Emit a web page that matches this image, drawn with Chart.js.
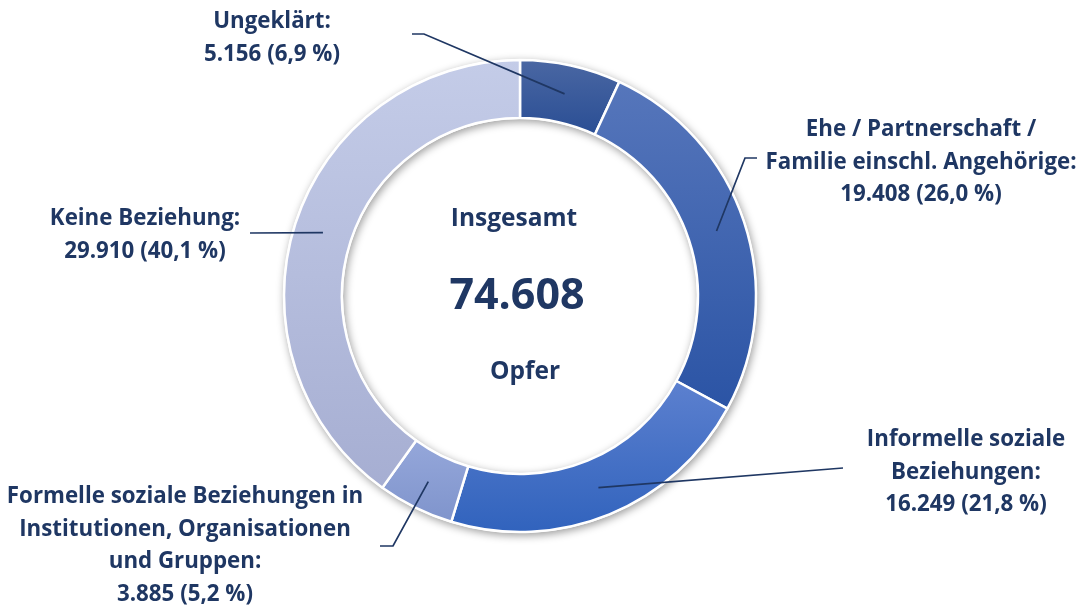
<!DOCTYPE html>
<html>
<head>
<meta charset="utf-8">
<script src="https://cdn.jsdelivr.net/npm/chart.js@4.4.0/dist/chart.umd.min.js"></script>
<style>
  html, body { margin: 0; padding: 0; background: #fff; }
  #wrap { width: 1084px; height: 607px; position: relative; }
</style>
</head>
<body>
<div id="wrap"><canvas id="opferChart"></canvas></div>
<script>
// Daten
const kategorien = [
    ['Ungeklärt:'],
    ['Ehe / Partnerschaft /', 'Familie einschl. Angehörige:'],
    ['Informelle soziale', 'Beziehungen:'],
    ['Formelle soziale Beziehungen in', 'Institutionen, Organisationen', 'und Gruppen:'],
    ['Keine Beziehung:']
];
const opferZahlen = [5156, 19408, 16249, 3885, 29910];
const farbenOben = ['#4a67a3', '#5676bb', '#5c80cf', '#95a7da', '#c4cce8'];
const farbenUnten = ['#2a4e94', '#2b54a5', '#3163bd', '#7f94cc', '#a6aed2'];
const mitteTitel = 'Insgesamt';
const mitteEinheit = 'Opfer';

// Layout der Beschriftungen (Textmitte x, erste Zeile y, Knickpunkte der Linie)
const beschriftung = [
    { x: 272, y: 22, linie: [[424, 34], [412, 34]] },
    { x: 921, y: 130, linie: [[745, 158], [757, 158]] },
    { x: 966, y: 440, linie: [[843, 468]] },
    { x: 185, y: 497, linie: [[393, 546], [380, 546]] },
    { x: 145, y: 219, linie: [[250, 233]] }
];

const TEXT_FARBE = '#1f3763';
const FONT = '"Open Sans", Lato, sans-serif';
const RADIUS = 236;
const CUTOUT = 178;
const total = opferZahlen.reduce((a, b) => a + b, 0);

const fmtZahl = n => n.toLocaleString('de-DE');
const fmtProzent = n => (n / total * 100).toFixed(1).replace('.', ',') + ' %';

function segmentGradient(context) {
    const chart = context.chart;
    const area = chart.chartArea;
    if (!area) return farbenOben[context.dataIndex];
    const i = context.dataIndex;
    const cy = (area.top + area.bottom) / 2;
    let vorher = 0;
    for (let k = 0; k < i; k++) vorher += opferZahlen[k];
    const a0 = -Math.PI / 2 + 2 * Math.PI * vorher / total;
    const a1 = a0 + 2 * Math.PI * opferZahlen[i] / total;
    let yMin = Infinity, yMax = -Infinity;
    for (let s = 0; s <= 40; s++) {
        const a = a0 + (a1 - a0) * s / 40;
        [RADIUS, CUTOUT].forEach(r => {
            const y = cy + r * Math.sin(a);
            yMin = Math.min(yMin, y);
            yMax = Math.max(yMax, y);
        });
    }
    const g = chart.ctx.createLinearGradient(0, yMin, 0, yMax);
    g.addColorStop(0, farbenOben[i]);
    g.addColorStop(1, farbenUnten[i]);
    return g;
}

// Schatten unter dem Ring
const ringSchatten = {
    id: 'ringSchatten',
    beforeDatasetsDraw(chart) {
        const meta = chart.getDatasetMeta(0);
        if (!meta.data.length) return;
        const { x, y } = meta.data[0];
        const ctx = chart.ctx;
        ctx.save();
        ctx.shadowColor = 'rgba(0, 0, 0, 0.4)';
        ctx.shadowBlur = 8;
        ctx.shadowOffsetX = 1.5;
        ctx.shadowOffsetY = 2.5;
        ctx.fillStyle = '#ffffff';
        ctx.beginPath();
        ctx.arc(x, y, RADIUS + 1, 0, Math.PI * 2);
        ctx.arc(x, y, CUTOUT - 1, 0, Math.PI * 2, true);
        ctx.fill();
        ctx.restore();
    }
};

// Beschriftungen, Linien und Mitte
const beschriftungen = {
    id: 'beschriftungen',
    afterDatasetsDraw(chart) {
        const ctx = chart.ctx;
        const meta = chart.getDatasetMeta(0);
        ctx.save();
        ctx.strokeStyle = TEXT_FARBE;
        ctx.lineWidth = 1.7;
        meta.data.forEach((arc, i) => {
            const p = arc.tooltipPosition();
            ctx.beginPath();
            ctx.moveTo(p.x, p.y);
            beschriftung[i].linie.forEach(pt => ctx.lineTo(pt[0], pt[1]));
            ctx.stroke();
        });

        ctx.fillStyle = TEXT_FARBE;
        ctx.textAlign = 'center';
        ctx.textBaseline = 'middle';
        ctx.font = 'bold 22.3px ' + FONT;
        kategorien.forEach((zeilen, i) => {
            const b = beschriftung[i];
            const alle = zeilen.concat([fmtZahl(opferZahlen[i]) + ' (' + fmtProzent(opferZahlen[i]) + ')']);
            alle.forEach((t, j) => ctx.fillText(t, b.x, b.y + j * 32.5));
        });

        const { x, y } = meta.data[0];
        ctx.font = 'bold 24.5px ' + FONT;
        ctx.fillText(mitteTitel, x - 6, y - 77);
        ctx.fillText(mitteEinheit, x + 5, y + 76);
        ctx.font = 'bold 43px ' + FONT;
        ctx.fillText(fmtZahl(total), x - 3, y + 1);
        ctx.restore();
    }
};

new Chart(document.getElementById('opferChart'), {
    type: 'doughnut',
    data: {
        labels: kategorien.map(z => z.join(' ')),
        datasets: [{
            data: opferZahlen,
            backgroundColor: segmentGradient,
            borderColor: '#ffffff',
            borderWidth: 2.5,
            borderAlign: 'center'
        }]
    },
    options: {
        responsive: true,
        maintainAspectRatio: false,
        animation: false,
        radius: RADIUS,
        cutout: (CUTOUT / RADIUS * 100).toFixed(2) + '%',
        layout: {
            padding: { left: 0, right: 44, top: 0, bottom: 15 }
        },
        plugins: {
            legend: { display: false },
            tooltip: { enabled: false }
        }
    },
    plugins: [ringSchatten, beschriftungen]
});
</script>
</body>
</html>
